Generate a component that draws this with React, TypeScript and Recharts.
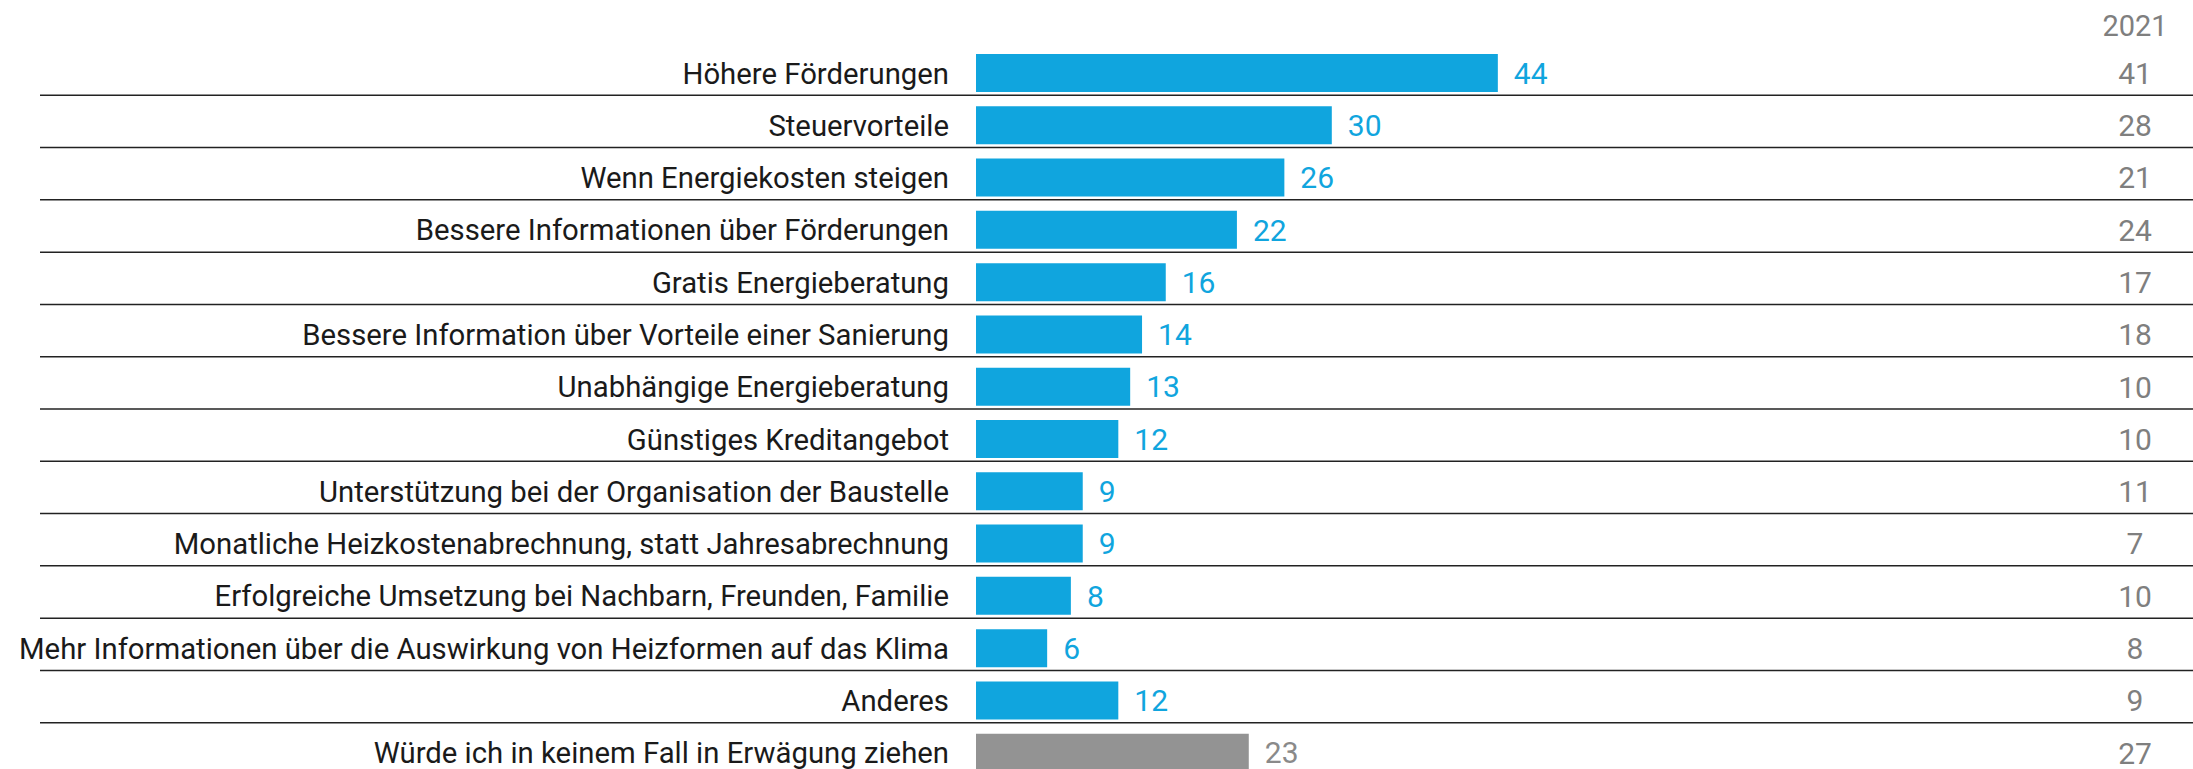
import React from "react";
import { BarChart, Bar, XAxis, YAxis, Cell, LabelList } from "recharts";

const categories = [
  "Höhere Förderungen",
  "Steuervorteile",
  "Wenn Energiekosten steigen",
  "Bessere Informationen über Förderungen",
  "Gratis Energieberatung",
  "Bessere Information über Vorteile einer Sanierung",
  "Unabhängige Energieberatung",
  "Günstiges Kreditangebot",
  "Unterstützung bei der Organisation der Baustelle",
  "Monatliche Heizkostenabrechnung, statt Jahresabrechnung",
  "Erfolgreiche Umsetzung bei Nachbarn, Freunden, Familie",
  "Mehr Informationen über die Auswirkung von Heizformen auf das Klima",
  "Anderes",
  "Würde ich in keinem Fall in Erwägung ziehen",
];
const valuesCurrent = [44, 30, 26, 22, 16, 14, 13, 12, 9, 9, 8, 6, 12, 23];
const values2021 = [41, 28, 21, 24, 17, 18, 10, 10, 11, 7, 10, 8, 9, 27];
const compareHeader = "2021";

const data = categories.map((name, i) => ({
  name,
  value: valuesCurrent[i],
  prev: values2021[i],
}));

const FONT = "Roboto, 'DejaVu Sans', sans-serif";
const BLUE = "#10A5DE";
const GRAY_BAR = "#939393";
const GRAY_TEXT = "#8a8a8a";
const RIGHT_TEXT = "#7f7f7f";
const CHART_W = 2193;
const CHART_H = 800;
const MARGIN = { top: 47, right: 0, bottom: 21, left: 0 };
const ROW_H = (CHART_H - MARGIN.top - MARGIN.bottom) / categories.length;
const LAST = categories.length - 1;

const LeftTick = (props: any) => {
  const { x, y, payload, index } = props;
  return (
    <g>
      <text
        x={x}
        y={y}
        dy="0.355em"
        textAnchor="end"
        fontFamily={FONT}
        fontSize={29.3}
        fill="#1a1a1a"
      >
        {payload.value}
      </text>
      {index < LAST && (
        <line
          x1={40}
          x2={CHART_W}
          y1={y + ROW_H / 2 - 4}
          y2={y + ROW_H / 2 - 4}
          stroke="#222"
          strokeWidth={1.5}
        />
      )}
    </g>
  );
};

const RightTick = (props: any) => {
  const { x, y, index } = props;
  const cx = x + 566;
  return (
    <g>
      {index === 0 && (
        <text
          x={cx}
          y={y - 47}
          dy="0.355em"
          textAnchor="middle"
          fontFamily={FONT}
          fontSize={29}
          fill={RIGHT_TEXT}
        >
          {compareHeader}
        </text>
      )}
      <text
        x={cx}
        y={y}
        dy="0.355em"
        textAnchor="middle"
        fontFamily={FONT}
        fontSize={30}
        fill={RIGHT_TEXT}
      >
        {values2021[index]}
      </text>
    </g>
  );
};

const ValueLabel = (props: any) => {
  const vb = props.viewBox ?? props;
  const x = vb.x ?? props.x;
  const y = vb.y ?? props.y;
  const w = vb.width ?? props.width;
  const h = vb.height ?? props.height;
  const idx = props.index;
  return (
    <text
      x={x + w + 16}
      y={y + h / 2}
      dy="0.355em"
      textAnchor="start"
      fontFamily={FONT}
      fontSize={30}
      fill={idx === LAST ? GRAY_TEXT : BLUE}
    >
      {props.value}
    </text>
  );
};

export default function App() {
  return (
    <div
      style={{
        position: "absolute",
        left: 0,
        top: 0,
        width: CHART_W,
        height: 769,
        overflow: "hidden",
        background: "#fff",
      }}
    >
      <BarChart
        width={CHART_W}
        height={CHART_H}
        data={data}
        layout="vertical"
        margin={MARGIN}
      >
        <XAxis type="number" domain={[0, 50]} hide />
        <YAxis
          yAxisId="left"
          type="category"
          dataKey="name"
          width={976}
          axisLine={false}
          tickLine={false}
          tickSize={0}
          tickMargin={27}
          interval={0}
          tick={<LeftTick />}
        />
        <YAxis
          yAxisId="right"
          orientation="right"
          type="category"
          dataKey="name"
          width={624}
          axisLine={false}
          tickLine={false}
          tickSize={0}
          tickMargin={0}
          interval={0}
          tick={<RightTick />}
        />
        <Bar
          yAxisId="left"
          dataKey="value"
          barSize={38}
          isAnimationActive={false}
        >
          {data.map((d, i) => (
            <Cell key={d.name} fill={i === LAST ? GRAY_BAR : BLUE} />
          ))}
          <LabelList dataKey="value" content={<ValueLabel />} />
        </Bar>
      </BarChart>
    </div>
  );
}
